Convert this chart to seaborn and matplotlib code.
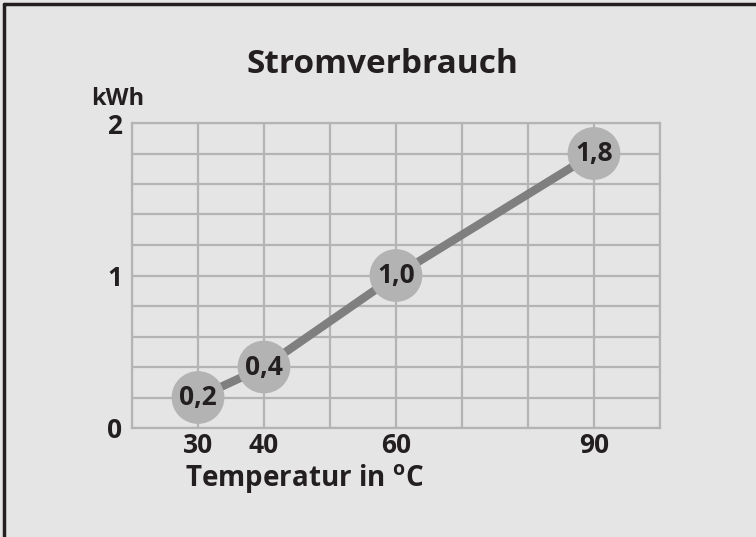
import matplotlib
matplotlib.use("Agg")
import matplotlib.pyplot as plt
import numpy as np
import pandas as pd
import seaborn as sns

# data
temperatures = [30, 40, 60, 90]
consumption = [0.2, 0.4, 1.0, 1.8]
x_ticks = [30, 40, 60, 90]
y_ticks = [0, 1, 2]

BG = "#e5e5e5"
GRID = "#b4b4b4"
TEXT = "#231f20"
FONT = ["Open Sans", "DejaVu Sans"]


def main():
    sns.set_theme(style="white")
    plt.rcParams["font.family"] = FONT
    plt.rcParams["font.weight"] = "bold"
    plt.rcParams["mathtext.fontset"] = "custom"
    plt.rcParams["mathtext.rm"] = "Open Sans:bold"
    plt.rcParams["mathtext.bf"] = "Open Sans:bold"

    df = pd.DataFrame({"temp": temperatures, "kwh": consumption})

    fig = plt.figure(figsize=(7.56, 5.37), dpi=100, facecolor=BG)
    ax = fig.add_axes([132 / 756, 1 - 428 / 537, 528 / 756, 305 / 537])
    ax.set_facecolor(BG)

    ax.set_xlim(20, 100)
    ax.set_ylim(0, 2)
    ax.set_xticks(x_ticks)
    ax.set_yticks(y_ticks)
    ax.set_xticks(np.arange(20, 101, 10), minor=True)
    ax.set_yticks(np.arange(0, 2.01, 0.2), minor=True)
    ax.grid(which="both", color=GRID, linewidth=1.6)
    ax.set_axisbelow(True)
    for s in ax.spines.values():
        s.set_color(GRID)
        s.set_linewidth(1.6)

    sns.lineplot(data=df, x="temp", y="kwh", ax=ax, color="#7f7f7f",
                 linewidth=6, zorder=2)
    sns.scatterplot(data=df, x="temp", y="kwh", ax=ax, color="#b3b3b3",
                    s=38 ** 2, edgecolor="none", zorder=3)
    for t, v in zip(temperatures, consumption):
        ax.text(t, v, f"{v:.1f}".replace(".", ","), ha="center", va="center",
                fontsize=19, fontweight="bold", color=TEXT, zorder=4)

    ax.set_xticklabels([str(v) for v in x_ticks], fontsize=19, fontweight="bold", color=TEXT)
    ax.set_yticklabels([str(v) for v in y_ticks], fontsize=19, fontweight="bold", color=TEXT)
    ax.tick_params(axis="both", which="both", length=0)
    ax.tick_params(axis="x", pad=3)
    ax.tick_params(axis="y", pad=7)
    ax.set_xlabel("")
    ax.set_ylabel("")

    fig.text(382 / 756, 1 - 73 / 537, "Stromverbrauch", ha="center", va="baseline",
             fontsize=24, fontweight="bold", color=TEXT)
    fig.text(118 / 756, 1 - 105 / 537, "kWh", ha="center", va="baseline",
             fontsize=17, fontweight="bold", color=TEXT)
    fig.text(185 / 756, 1 - 487 / 537, r"Temperatur in $^{\mathrm{o}}$C", ha="left",
             va="baseline", fontsize=20, fontweight="bold", color=TEXT)

    # frame on left and top
    fig.add_artist(plt.Line2D([4 / 756, 4 / 756], [0, 1 - 4 / 537], color="#231f20",
                              linewidth=2.5, transform=fig.transFigure))
    fig.add_artist(plt.Line2D([4 / 756, 1], [1 - 4 / 537, 1 - 4 / 537], color="#231f20",
                              linewidth=2.5, transform=fig.transFigure))

    fig.savefig("out.png", dpi=100, facecolor=BG)


if __name__ == '__main__':
    main()
